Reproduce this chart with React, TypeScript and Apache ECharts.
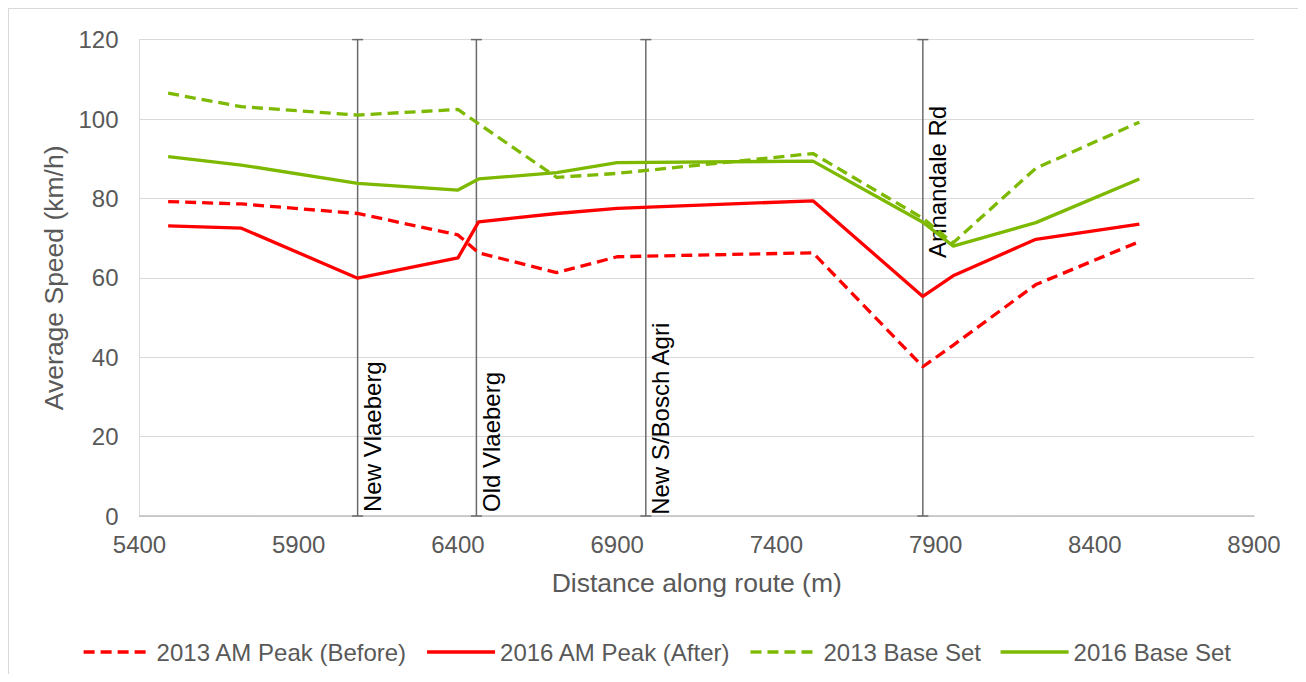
import React, { useEffect, useRef } from "react";
import * as echarts from "echarts";

const distances = [5490, 5720, 6085, 6400, 6465, 6710, 6900, 7515, 7860, 7955, 8215, 8540];
const am2013 = [79.2, 78.6, 76.2, 70.8, 66.3, 61.3, 65.3, 66.3, 37.6, 43.0, 58.3, 69.1];
const am2016 = [73.1, 72.5, 59.9, 65.0, 74.1, 76.2, 77.5, 79.4, 55.3, 60.5, 69.7, 73.5];
const base2013 = [106.5, 103.1, 101.0, 102.4, 98.8, 85.3, 86.3, 91.3, 75.0, 68.8, 87.6, 99.2];
const base2016 = [90.5, 88.4, 83.8, 82.1, 84.9, 86.5, 89.0, 89.4, 74.0, 68.0, 73.9, 84.9];

const markerNames = ["New Vlaeberg", "Old Vlaeberg", "New S/Bosch Agri", "Annandale Rd"];
const markerDistances = [6085, 6458, 6990, 7860];
const markerLabelBase = [1, 1, 0.3, 65];

const seriesNames = ["2013 AM Peak (Before)", "2016 AM Peak (After)", "2013 Base Set", "2016 Base Set"];

const FONT = "'Liberation Sans', Arial, sans-serif";
const RED = "#ff0000";
const GREEN = "#7cb900";

export default function App() {
  const ref = useRef<HTMLDivElement>(null);

  useEffect(() => {
    if (!ref.current) return;
    const chart = echarts.init(ref.current, null, { renderer: "svg" });

    const pairs = (vals: number[]) => distances.map((d, i) => [d, vals[i]]);
    const dash = [11, 6];

    const lineSeries = (name: string, vals: number[], color: string, dashed: boolean) => ({
      name,
      type: "line",
      data: pairs(vals),
      symbol: "none",
      showSymbol: false,
      z: 3,
      lineStyle: { color, width: 3.3, type: dashed ? dash : "solid", cap: "butt", join: "round" },
      itemStyle: { color },
    });

    const option: any = {
      animation: false,
      textStyle: { fontFamily: FONT },
      grid: { left: 130.5, right: 50, top: 30.6, bottom: 158, containLabel: false },
      xAxis: {
        type: "value",
        min: 5400,
        max: 8900,
        interval: 500,
        name: "Distance along route (m)",
        nameLocation: "middle",
        nameGap: 53,
        nameTextStyle: { fontSize: 26.5, color: "#595959", fontFamily: FONT },
        axisLine: { show: true, lineStyle: { color: "#bfbfbf", width: 1.5 } },
        axisTick: { show: false },
        splitLine: { show: false },
        axisLabel: {
          fontSize: 24,
          color: "#595959",
          margin: 16,
          fontFamily: FONT,
          formatter: (v: number) => String(v),
        },
      },
      yAxis: {
        type: "value",
        min: 0,
        max: 120,
        interval: 20,
        name: "Average Speed (km/h)",
        nameLocation: "middle",
        nameGap: 63,
        nameTextStyle: { fontSize: 26.5, color: "#595959", fontFamily: FONT },
        axisLine: { show: true, lineStyle: { color: "#d9d9d9", width: 1 } },
        axisTick: { show: false },
        splitLine: { show: true, lineStyle: { color: "#d9d9d9", width: 1.2 } },
        axisLabel: { fontSize: 24, color: "#595959", margin: 21, fontFamily: FONT },
      },
      legend: {
        data: seriesNames,
        left: "center",
        top: 626,
        itemWidth: 68,
        itemHeight: 14,
        itemGap: 18,
        itemStyle: { opacity: 0 },
        lineStyle: { width: 3.3 },
        textStyle: { fontSize: 24, color: "#595959", fontFamily: FONT },
      },
      series: [
        {
          type: "custom",
          name: "markers",
          z: 1,
          clip: false,
          data: markerDistances.map((d, i) => [d, markerLabelBase[i]]),
          encode: { x: 0, y: 1 },
          renderItem: (params: any, api: any) => {
            const x = api.value(0);
            const lb = api.value(1);
            const top = api.coord([x, 120]);
            const bot = api.coord([x, 0]);
            const lab = api.coord([x, lb]);
            const stroke = { stroke: "#6b6b6b", lineWidth: 1.5 };
            return {
              type: "group",
              children: [
                { type: "line", shape: { x1: top[0], y1: top[1], x2: bot[0], y2: bot[1] }, style: stroke },
                { type: "line", shape: { x1: top[0] - 5.5, y1: top[1], x2: top[0] + 5.5, y2: top[1] }, style: stroke },
                { type: "line", shape: { x1: bot[0] - 5.5, y1: bot[1], x2: bot[0] + 5.5, y2: bot[1] }, style: stroke },
                {
                  type: "text",
                  x: lab[0] + 3,
                  y: lab[1],
                  rotation: Math.PI / 2,
                  z2: 10,
                  style: {
                    text: markerNames[params.dataIndex],
                    fill: "#000000",
                    fontSize: 24,
                    fontFamily: FONT,
                    align: "left",
                    verticalAlign: "top",
                  },
                },
              ],
            };
          },
        },
        lineSeries(seriesNames[0], am2013, RED, true),
        lineSeries(seriesNames[1], am2016, RED, false),
        lineSeries(seriesNames[2], base2013, GREEN, true),
        lineSeries(seriesNames[3], base2016, GREEN, false),
      ],
    };

    chart.setOption(option);
    return () => chart.dispose();
  }, []);

  return (
    <div
      style={{
        width: 1297,
        height: 666,
        boxSizing: "border-box",
        borderTop: "1px solid #d9d9d9",
        borderLeft: "1px solid #d9d9d9",
        borderRight: "1px solid #d9d9d9",
        background: "#ffffff",
      }}
    >
      <div ref={ref} style={{ width: 1295, height: 665 }} />
    </div>
  );
}
